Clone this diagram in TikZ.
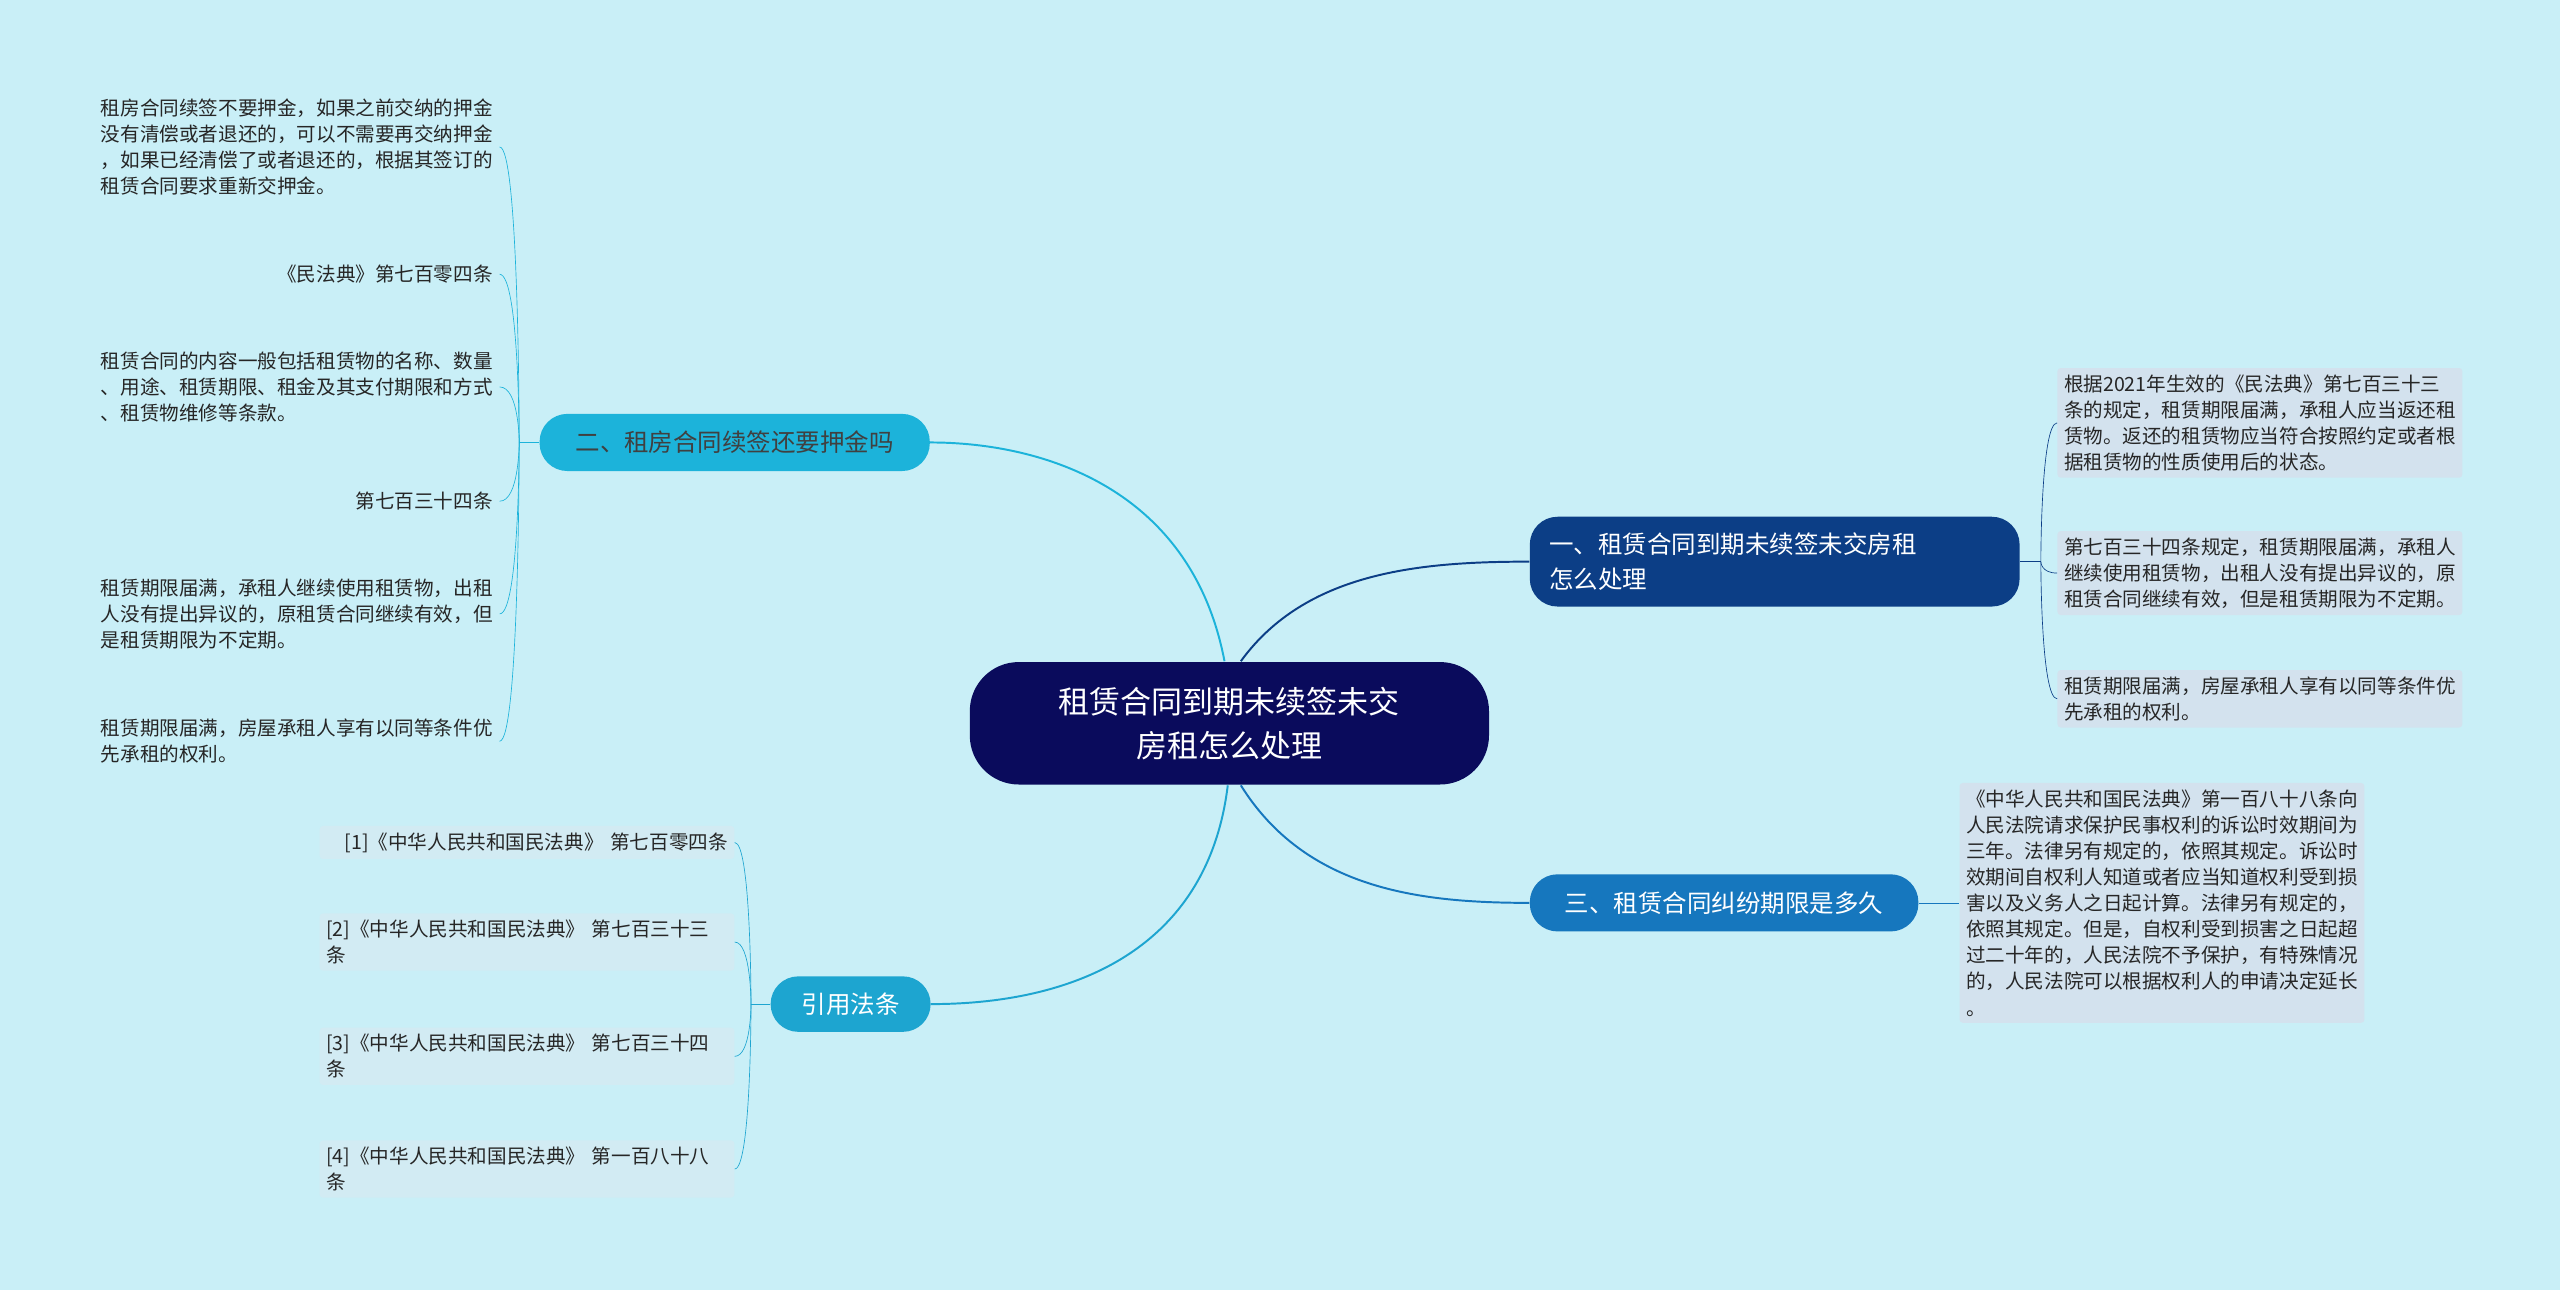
\documentclass[tikz,border=0pt]{standalone}
\usepackage{fontspec}
\setmainfont{Noto Sans CJK SC}
\begin{document}
\begin{tikzpicture}[x=1pt,y=-1pt,
  leaf/.style={font=\fontsize{12}{16}\selectfont,align=left,inner sep=4pt,text=black!85},
  rleaf/.style={leaf,fill=rbox,rounded corners=2pt},
  cleaf/.style={leaf,fill=cbox,rounded corners=2pt},
  br/.style={rounded corners=17pt,font=\fontsize{15}{21}\selectfont,align=left,inner xsep=12pt,inner ysep=6pt},
  con/.style={line width=1.2pt}]
\definecolor{bg}{HTML}{C9EFF7}
\definecolor{rbox}{HTML}{D3E2EE}
\definecolor{cbox}{HTML}{D2EBF3}
\definecolor{navy}{HTML}{0A0B5C}
\definecolor{b1}{HTML}{0C3E86}
\definecolor{b3}{HTML}{1677BE}
\definecolor{b2}{HTML}{1CB3DA}
\definecolor{b4}{HTML}{1DA5D0}
\fill[bg] (0,0) rectangle (1568,790);
\useasboundingbox (0,0) rectangle (1568,790);
% center
\node[fill=navy,text=white,rounded corners=30pt,minimum width=318pt,minimum height=75pt,align=center,font=\fontsize{19}{27}\selectfont] (c) at (753,443) {租赁合同到期未续签未交\\房租怎么处理};
% branches
\node[br,fill=b1,text=white,text width=276pt,minimum height=55pt] (n1) at (1087,344) {一、租赁合同到期未续签未交房租\\怎么处理};
\node[br,fill=b3,text=white,minimum width=238pt,minimum height=35pt,align=center] (n3) at (1056,553) {三、租赁合同纠纷期限是多久};
\node[br,fill=b2,text=black!75,minimum width=239pt,minimum height=35pt,align=center] (n2) at (450,271) {二、租房合同续签还要押金吗};
\node[br,fill=b4,text=white,minimum width=98pt,minimum height=34pt,align=center] (n4) at (521,615) {引用法条};
\draw[con,b1] (760,405) .. controls (800,350) and (870,344) .. (n1.west);
\draw[con,b3] (760,481) .. controls (800,545) and (870,553) .. (n3.west);
\draw[con,b2] (750,405) .. controls (730,300) and (640,271) .. (n2.east);
\draw[con,b4] (752,481) .. controls (740,580) and (660,615) .. (n4.east);
% right leaves
\node[rleaf,anchor=west] (r1) at (1260,259) {根据2021年生效的《民法典》第七百三十三\\条的规定，租赁期限届满，承租人应当返还租\\赁物。返还的租赁物应当符合按照约定或者根\\据租赁物的性质使用后的状态。};
\node[rleaf,anchor=west] (r2) at (1260,351) {第七百三十四条规定，租赁期限届满，承租人\\继续使用租赁物，出租人没有提出异议的，原\\租赁合同继续有效，但是租赁期限为不定期。};
\node[rleaf,anchor=west] (r3) at (1260,428) {租赁期限届满，房屋承租人享有以同等条件优\\先承租的权利。};
\coordinate (h1) at (1250,344);
\draw[b1] (n1.east) -- (h1);
\foreach \t in {r1,r2,r3}{\draw[b1] (h1) .. controls (1250,344) and (1250,0|-\t.west) .. (\t.west);}
\node[rleaf,anchor=west] (r4) at (1200,553) {《中华人民共和国民法典》第一百八十八条向\\人民法院请求保护民事权利的诉讼时效期间为\\三年。法律另有规定的，依照其规定。诉讼时\\效期间自权利人知道或者应当知道权利受到损\\害以及义务人之日起计算。法律另有规定的，\\依照其规定。但是，自权利受到损害之日起超\\过二十年的，人民法院不予保护，有特殊情况\\的，人民法院可以根据权利人的申请决定延长\\。};
\draw[b3] (n3.east) -- (r4.west);
% left leaves of n2
\node[leaf,anchor=east] (l1) at (306,90) {租房合同续签不要押金，如果之前交纳的押金\\没有清偿或者退还的，可以不需要再交纳押金\\，如果已经清偿了或者退还的，根据其签订的\\租赁合同要求重新交押金。};
\node[leaf,anchor=east] (l2) at (306,168) {《民法典》第七百零四条};
\node[leaf,anchor=east] (l3) at (306,237) {租赁合同的内容一般包括租赁物的名称、数量\\、用途、租赁期限、租金及其支付期限和方式\\、租赁物维修等条款。};
\node[leaf,anchor=east] (l4) at (306,307) {第七百三十四条};
\node[leaf,anchor=east] (l5) at (306,376) {租赁期限届满，承租人继续使用租赁物，出租\\人没有提出异议的，原租赁合同继续有效，但\\是租赁期限为不定期。};
\node[leaf,anchor=east] (l6) at (306,454) {租赁期限届满，房屋承租人享有以同等条件优\\先承租的权利。};
\coordinate (h2) at (318,271);
\draw[b2] (n2.west) -- (h2);
\foreach \t in {l1,l2,l3,l4,l5,l6}{\draw[b2] (h2) .. controls (318,271) and (318,0|-\t.east) .. (\t.east);}
% citation leaves
\node[cleaf,text width=246pt,anchor=east] (c1) at (450,516) {\hfill[1]《中华人民共和国民法典》 第七百零四条};
\node[cleaf,text width=246pt,anchor=east] (c2) at (450,577) {[2]《中华人民共和国民法典》 第七百三十三\\条};
\node[cleaf,text width=246pt,anchor=east] (c3) at (450,647) {[3]《中华人民共和国民法典》 第七百三十四\\条};
\node[cleaf,text width=246pt,anchor=east] (c4) at (450,716) {[4]《中华人民共和国民法典》 第一百八十八\\条};
\coordinate (h4) at (460,615);
\draw[b4] (n4.west) -- (h4);
\foreach \t in {c1,c2,c3,c4}{\draw[b4] (h4) .. controls (460,615) and (460,0|-\t.east) .. (\t.east);}
\end{tikzpicture}
\end{document}
